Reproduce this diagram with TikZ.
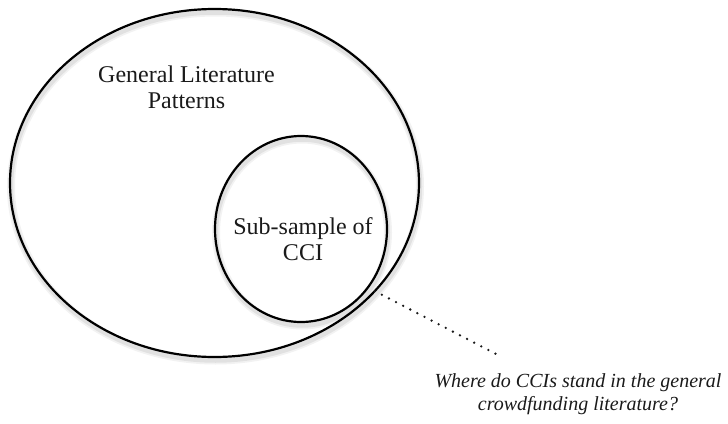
\documentclass[tikz,border=0pt]{standalone}
\usepackage{fontspec}
\setmainfont{Liberation Serif}
\usetikzlibrary{shapes.geometric}
\definecolor{ink}{HTML}{1A1A1A}
\tikzset{
  setbox/.style={ellipse, draw=black, line width=2.2pt, inner sep=0pt, outer sep=0pt},
  shade1/.style={ellipse, draw=black, inner sep=0pt, outer sep=0pt, draw opacity=0.05, line width=8pt},
  shade2/.style={ellipse, draw=black, inner sep=0pt, outer sep=0pt, draw opacity=0.07, line width=4.5pt},
  label/.style={font=\fontsize{24}{26}\selectfont, text=ink, align=center, inner sep=0pt, anchor=base},
  question/.style={font=\fontsize{20}{22.5}\selectfont\itshape, text=ink, align=center, inner sep=0pt, anchor=base},
  dotline/.style={line width=2.6pt, line cap=round, dash pattern=on 0pt off 8pt, draw=ink}
}
\begin{document}
\begin{tikzpicture}[x=1pt,y=-1pt]
\useasboundingbox (0,0) rectangle (728,423);
% soft shadows
\foreach \s in {shade1,shade2}{
  \node[\s, minimum width=409pt, minimum height=348pt] at (215.5,186.5) {};
  \node[\s, minimum width=172pt, minimum height=186pt] at (302,232.5) {};
}
\node[setbox, minimum width=409pt, minimum height=348pt] (big) at (214.5,183) {};
\node[setbox, minimum width=172pt, minimum height=186pt] (small) at (301,229) {};
\node[label] (gen) at (186.5,108) {General Literature\\Patterns};
\node[label] (sub) at (303,260) {Sub-sample of\\CCI};
\node[question] (q) at (578,410) {Where do CCIs stand in the general\\crowdfunding literature?};
\coordinate (dotend) at (498,355);
\draw[dotline] (big.-34.4) -- (dotend);
\end{tikzpicture}
\end{document}
